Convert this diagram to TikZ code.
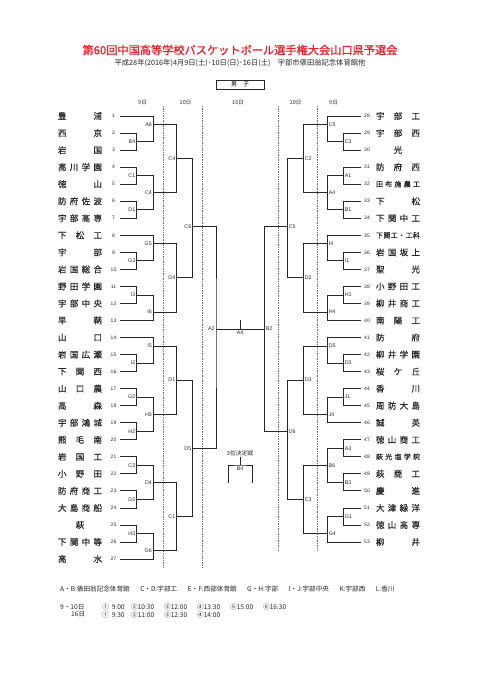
\documentclass[tikz,border=0pt]{standalone}
\usepackage{fontspec}
\setmainfont{Noto Sans CJK JP}
\newfontfamily\jpb[FakeBold=0.5]{Noto Sans CJK JP}
\newfontfamily\jpt[FakeBold=0.9]{Noto Sans CJK JP}
\newfontfamily\lat{Liberation Sans}
\definecolor{titlered}{RGB}{232,30,40}
\definecolor{ink}{RGB}{40,40,40}
\newcommand\spread[1]{\spreadaux#1\relax}
\def\spreadaux#1{#1\spreadnext}
\def\spreadnext#1{\ifx\relax#1\else\hfill#1\expandafter\spreadnext\fi}
\newcommand\tname[1]{\makebox[44pt][s]{\expandafter\spread\expandafter{#1}}}
\newcommand\tone[1]{\makebox[44pt][c]{#1}}
\newcommand\lgap{\hspace{10.5pt}}
\tikzset{
  br/.style={line width=0.8pt, draw=ink},
  sepline/.style={draw=black!55, line width=0.45pt, dash pattern=on 0.7pt off 1pt},
  nm/.style={inner sep=0pt, text=ink, font=\jpb\fontsize{8.5}{8.5}\selectfont},
  nms/.style={inner sep=0pt, text=ink, font=\jpb\fontsize{7}{7}\selectfont},
  num/.style={inner sep=0pt, text=ink, font=\lat\fontsize{5}{5}\selectfont},
  lblL/.style={inner sep=0pt, anchor=east, xshift=-1.3pt, text=ink, font=\lat\fontsize{5.3}{5.3}\selectfont},
  lblR/.style={inner sep=0pt, anchor=west, xshift=1.3pt, text=ink, font=\lat\fontsize{5.3}{5.3}\selectfont},
  day/.style={inner sep=0pt, text=ink, font=\fontsize{5.5}{5.5}\selectfont},
  legend/.style={inner sep=0pt, anchor=west, text=ink, font=\fontsize{6.6}{6.6}\selectfont},
}
\begin{document}
\begin{tikzpicture}[x=1pt, y=-1pt]
\useasboundingbox[fill=white] (0,0) rectangle (481,680);

% title
\node[inner sep=0pt, text=titlered, font=\jpt\fontsize{11.2}{11.2}\selectfont] (title) at (240,50) {第60回中国高等学校バスケットボール選手権大会山口県予選会};
\node[inner sep=0pt, text=ink, font=\fontsize{7.3}{7.3}\selectfont] (sub) at (240,63.3) {平成28年(2016年)4月9日(土)･10日(日)･16日(土)　宇部市俵田翁記念体育館他};
\node[draw=ink, line width=0.7pt, minimum width=48pt, minimum height=9pt, inner sep=0pt, font=\fontsize{6}{6}\selectfont] (sex) at (240,84.5) {男　子};

% day headings
\node[day] (d1) at (142.5,102.5) {9日};
\node[day] (d2) at (185.5,102.5) {10日};
\node[day] (d3) at (238,102.5) {16日};
\node[day] (d4) at (295.5,102.5) {10日};
\node[day] (d5) at (333.5,102.5) {9日};

% day separators
\coordinate (s1a) at (163.3,106); \coordinate (s1b) at (163.3,567);
\coordinate (s2a) at (202.3,106); \coordinate (s2b) at (202.3,567);
\coordinate (s3a) at (278,106); \coordinate (s3b) at (278,551);
\coordinate (s4a) at (317,106); \coordinate (s4b) at (317,551);
\draw[sepline] (s1a) -- (s1b);
\draw[sepline] (s2a) -- (s2b);
\draw[sepline] (s3a) -- (s3b);
\draw[sepline] (s4a) -- (s4b);

% left teams
\foreach \i/\n/\s in {1/豊浦/nm,2/西京/nm,3/岩国/nm,4/高川学園/nm,5/徳山/nm,6/防府佐波/nm,7/宇部高専/nm,8/下松工/nm,9/宇部/nm,10/岩国総合/nm,11/野田学園/nm,12/宇部中央/nm,13/早鞆/nm,14/山口/nm,15/岩国広瀬/nm,16/下関西/nm,17/山口農/nm,18/高森/nm,19/宇部鴻城/nm,20/熊毛南/nm,21/岩国工/nm,22/小野田/nm,23/防府商工/nm,24/大島商船/nm,26/下関中等/nm,27/高水/nm}{
  \node[\s] (nmL\i) at (80,{116+17.04*(\i-1)}) {\tname{\n}};
}
\node[nm] (nmL25) at (80,{116+17.04*24}) {\tone{萩}};
\foreach \i in {1,...,27}{
  \node[num] (noL\i) at (113.5,{116+17.04*(\i-1)}) {\i};
  \coordinate (tL\i) at (120,{116+17.04*(\i-1)});
}

% right teams
\foreach \i/\n/\s in {28/宇部工/nm,29/宇部西/nm,31/防府西/nm,32/田布施農工/nms,33/下松/nm,34/下関中工/nm,35/下関工・工科/nms,36/岩国坂上/nm,37/聖光/nm,38/小野田工/nm,39/柳井商工/nm,40/南陽工/nm,41/防府/nm,42/柳井学園/nm,43/桜ケ丘/nm,44/香川/nm,45/周防大島/nm,46/誠英/nm,47/徳山商工/nm,48/萩光塩学院/nms,49/萩商工/nm,50/慶進/nm,51/大津緑洋/nm,52/徳山高専/nm,53/柳井/nm}{
  \node[\s] (nmR\i) at (398,{116+17.04*(\i-28)}) {\tname{\n}};
}
\node[nm] (nmR30) at (398,{116+17.04*2}) {\tone{光}};
\foreach \i in {28,...,53}{
  \node[num] (noR\i) at (367,{116+17.04*(\i-28)}) {\i};
  \coordinate (tR\i) at (360.7,{116+17.04*(\i-28)});
}

% left bracket
\foreach \m/\x/\h/\a/\b/\t in {
  LB4/136.7/3/tL2/tL3/B4, LA6/153.3/1/tL1/LB4/A6,
  LC1/136.7/7/tL4/tL5/C1, LD1/136.7/11/tL6/tL7/D1,
  LC4a/153.3/9/LC1/LD1/C4, LC4b/176.7/5/LA6/LC4a/C4,
  LG3/136.7/17/tL9/tL10/G3, LG5/153.3/15/tL8/LG3/G5,
  LI3/136.7/21/tL11/tL12/I3, LI6/153.3/23/LI3/tL13/I6,
  LD4a/176.7/19/LG5/LI6/D4, LC6/192.7/13/LC4b/LD4a/C6,
  LI2/136.7/29/tL15/tL16/I2, LI5/153.3/27/tL14/LI2/I5,
  LG2/136.7/33/tL17/tL18/G2, LH2/136.7/37/tL19/tL20/H2,
  LH5/153.3/35/LG2/LH2/H5, LD1b/176.7/31/LI5/LH5/D1,
  LC2/136.7/41/tL21/tL22/C2, LD2/136.7/45/tL23/tL24/D2,
  LD4b/153.3/43/LC2/LD2/D4, LH3/136.7/49/tL25/tL26/H3,
  LG6/153.3/51/LH3/tL27/G6, LC1b/176.7/47/LD4b/LG6/C1,
  LD5/192.7/39/LD1b/LC1b/D5, LA2/216/25/LC6/LD5/A2}{
  \coordinate (\m) at (\x,{116+8.52*\h});
  \draw[br] (\a) -| (\m) |- (\b);
  \node[lblL] (lab\m) at (\m) {\t};
}

% right bracket
\foreach \m/\x/\h/\a/\b/\t in {
  RC3/343.3/3/tR29/tR30/C3, RC5/327.3/1/tR28/RC3/C5,
  RA1/343.3/7/tR31/tR32/A1, RB1/343.3/11/tR33/tR34/B1,
  RA4/327.3/9/RA1/RB1/A4, RC2/303.3/5/RC5/RA4/C2,
  RI1/343.3/17/tR36/tR37/I1, RI4/327.3/15/tR35/RI1/I4,
  RH1/343.3/21/tR38/tR39/H1, RH4/327.3/23/RH1/tR40/H4,
  RD2/303.3/19/RI4/RH4/D2, RC5b/287.3/13/RC2/RD2/C5,
  RD3/343.3/29/tR42/tR43/D3, RD5/327.3/27/tR41/RD3/D5,
  RJ1/343.3/33/tR44/tR45/J1, RJ4/327.3/35/RJ1/tR46/J4,
  RD3b/303.3/31/RD5/RJ4/D3, RA3/343.3/39/tR47/tR48/A3,
  RB3/343.3/43/tR49/tR50/B3, RB6/327.3/41/RA3/RB3/B6,
  RG1/343.3/47/tR51/tR52/G1, RG4/327.3/49/RG1/tR53/G4,
  RC3b/303.3/45/RB6/RG4/C3, RD6/287.3/37/RD3b/RC3b/D6,
  RB2/264.3/25/RC5b/RD6/B2}{
  \coordinate (\m) at (\x,{116+8.52*\h});
  \draw[br] (\a) -| (\m) |- (\b);
  \node[lblR] (lab\m) at (\m) {\t};
}

% final
\draw[br] (LA2) -- (RB2);
\coordinate (fin) at (240,{116+8.52*25});
\coordinate (fintop) at (240,{116+8.52*25-8.6});
\draw[br, line width=0.6pt] (fin) -- (fintop);
\node[inner sep=0pt, anchor=north, text=ink, font=\lat\fontsize{5.3}{5.3}\selectfont] (finlab) at ([yshift=-1.5pt]fin) {A4};

% third place
\node[inner sep=0pt, text=ink, font=\fontsize{5.8}{5.8}\selectfont] (third) at (240,453.3) {3位決定戦};
\coordinate (thtop) at (240,457.3);
\coordinate (thmid) at (240,465);
\coordinate (thl) at (228.3,482.7);
\coordinate (thr) at (252.3,482.7);
\draw[br, line width=0.6pt] (thtop) -- (thmid);
\draw[br] (thl) |- (thmid) -| (thr);
\node[inner sep=0pt, anchor=north, text=ink, font=\lat\fontsize{5.3}{5.3}\selectfont] (thlab) at ([yshift=-2pt]thmid) {B4};

% legend
\node[legend] (lg1) at (60,589) {A・B:俵田翁記念体育館\lgap C・D:宇部工\lgap E・F:西部体育館\lgap G・H:宇部\lgap I・J:宇部中央\lgap K:宇部西\lgap L:香川};
\node[legend] (lg2) at (60,607) {9・10日};
\node[legend] (lg2a) at (102,607) {①\ \ 9:00};
\node[legend] (lg2b) at (131,607) {②10:30};
\node[legend] (lg2c) at (164,607) {③12:00};
\node[legend] (lg2d) at (197,607) {④13:30};
\node[legend] (lg2e) at (230,607) {⑤15:00};
\node[legend] (lg2f) at (263,607) {⑥16:30};
\node[legend] (lg3) at (71,614.5) {16日};
\node[legend] (lg3a) at (102,614.5) {①\ \ 9:30};
\node[legend] (lg3b) at (131,614.5) {②11:00};
\node[legend] (lg3c) at (164,614.5) {③12:30};
\node[legend] (lg3d) at (197,614.5) {④14:00};
\end{tikzpicture}
\end{document}
